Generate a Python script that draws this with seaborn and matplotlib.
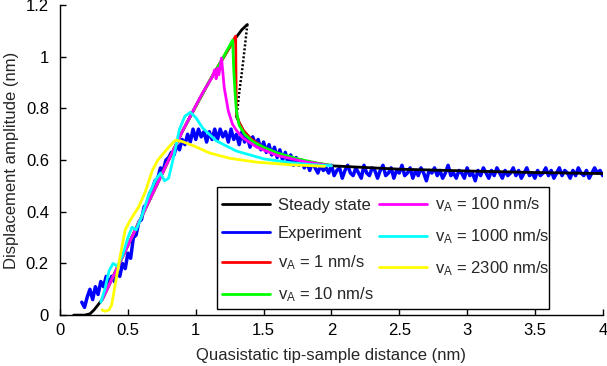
import numpy as np
import matplotlib
matplotlib.use("Agg")
import matplotlib.pyplot as plt
from matplotlib.patches import Rectangle
import seaborn as sns

sns.set_style("ticks")
plt.rcParams['font.family'] = ['Liberation Sans', 'DejaVu Sans']
plt.rcParams['mathtext.default'] = 'regular'

# steady state solution (stable upper, unstable, stable lower branch)
steady_up_x = [0.10, 0.18, 0.22, 0.25, 0.28, 0.31, 0.40, 0.50, 0.60, 0.70, 0.80, 0.90, 1.00, 1.10, 1.19, 1.27, 1.29, 1.34, 1.38]
steady_up_y = [0.0, 0.0, 0.005, 0.02, 0.04, 0.06, 0.16, 0.27, 0.38, 0.49, 0.60, 0.71, 0.81, 0.905, 0.985, 1.055, 1.07, 1.105, 1.125]
steady_mid_x = [1.38, 1.36, 1.34, 1.32, 1.31, 1.30]
steady_mid_y = [1.125, 1.03, 0.94, 0.86, 0.81, 0.77]
steady_low_x = [1.30, 1.32, 1.35, 1.40, 1.45, 1.50, 1.60, 1.70, 1.80, 2.00, 2.50, 3.00, 3.50, 4.00]
steady_low_y = [0.77, 0.745, 0.715, 0.685, 0.665, 0.648, 0.625, 0.608, 0.596, 0.578, 0.565, 0.558, 0.552, 0.548]

# experiment, sampled every 0.02 nm from 0.16 to 4.0 nm
exp_y = [0.05, 0.03, 0.07, 0.10, 0.06, 0.11, 0.08, 0.13, 0.11, 0.15,
         0.12, 0.15, 0.13, 0.17, 0.15, 0.20, 0.18, 0.24, 0.22, 0.30,
         0.31, 0.36, 0.37, 0.42, 0.43, 0.47, 0.49, 0.52, 0.53, 0.57,
         0.56, 0.60, 0.61, 0.63, 0.62, 0.66, 0.64, 0.68, 0.66, 0.70,
         0.67, 0.72, 0.68, 0.72, 0.69, 0.71, 0.67, 0.71, 0.68, 0.72,
         0.68, 0.72, 0.69, 0.71, 0.67, 0.72, 0.68, 0.70, 0.66, 0.71,
         0.67, 0.69, 0.65, 0.69, 0.66, 0.68, 0.64, 0.67, 0.63, 0.66,
         0.62, 0.65, 0.61, 0.64, 0.60, 0.63, 0.59, 0.62, 0.58, 0.61,
         0.58, 0.60, 0.57, 0.59, 0.56, 0.59, 0.57, 0.55, 0.58, 0.56,
         0.57, 0.55, 0.58, 0.54, 0.56, 0.57, 0.53, 0.56, 0.58, 0.55,
         0.54, 0.57, 0.55, 0.53, 0.58, 0.55, 0.54, 0.57, 0.56, 0.53,
         0.56, 0.58, 0.54, 0.55, 0.57, 0.53, 0.56, 0.55, 0.58, 0.54,
         0.55, 0.57, 0.53, 0.56, 0.54, 0.57, 0.55, 0.52, 0.56, 0.55,
         0.57, 0.54, 0.56, 0.53, 0.55, 0.58, 0.54, 0.55, 0.53, 0.56,
         0.55, 0.53, 0.57, 0.54, 0.55, 0.52, 0.56, 0.54, 0.57, 0.55,
         0.53, 0.56, 0.54, 0.57, 0.55, 0.53, 0.56, 0.54, 0.55, 0.57,
         0.54, 0.56, 0.53, 0.55, 0.57, 0.54, 0.55, 0.53, 0.56, 0.54,
         0.55, 0.57, 0.54, 0.56, 0.53, 0.55, 0.57, 0.54, 0.56, 0.55,
         0.53, 0.56, 0.54, 0.57, 0.55, 0.54, 0.56, 0.53, 0.55, 0.57,
         0.55, 0.56, 0.54]
exp_x = np.linspace(0.16, 4.0, len(exp_y))

# simulations at different approach velocities
v1_x = [0.31, 0.50, 0.70, 0.90, 1.10, 1.19, 1.27, 1.294, 1.296, 1.298, 1.30, 1.32, 1.35, 1.40, 1.50, 1.60, 1.80, 2.00]
v1_y = [0.06, 0.27, 0.49, 0.71, 0.905, 0.985, 1.055, 1.08, 0.95, 0.85, 0.78, 0.745, 0.715, 0.685, 0.648, 0.625, 0.596, 0.578]
v10_x = [0.31, 0.50, 0.70, 0.90, 1.10, 1.19, 1.272, 1.28, 1.29, 1.30, 1.32, 1.36, 1.42, 1.50, 1.60, 1.75, 1.90, 2.00]
v10_y = [0.06, 0.27, 0.49, 0.71, 0.905, 0.985, 1.065, 0.95, 0.86, 0.79, 0.735, 0.70, 0.672, 0.65, 0.628, 0.605, 0.588, 0.580]
v100_x = [0.31, 0.50, 0.70, 0.90, 1.05, 1.12, 1.14, 1.15, 1.16, 1.17, 1.19, 1.21, 1.24, 1.27, 1.30, 1.35, 1.45, 1.60, 1.80, 2.00]
v100_y = [0.06, 0.27, 0.49, 0.71, 0.86, 0.92, 0.95, 0.915, 0.955, 0.93, 0.995, 0.88, 0.79, 0.74, 0.715, 0.685, 0.65, 0.618, 0.594, 0.578]
v1000_x = [0.30, 0.33, 0.36, 0.39, 0.42, 0.46, 0.50, 0.53, 0.56, 0.60, 0.65, 0.70, 0.74, 0.77, 0.80, 0.84, 0.88, 0.92, 0.96, 1.00, 1.05, 1.15, 1.30, 1.50, 1.70, 1.85, 2.00]
v1000_y = [0.05, 0.10, 0.17, 0.20, 0.19, 0.23, 0.30, 0.34, 0.33, 0.38, 0.46, 0.52, 0.55, 0.52, 0.53, 0.62, 0.72, 0.77, 0.785, 0.765, 0.725, 0.675, 0.635, 0.605, 0.59, 0.583, 0.578]
v2300_x = [0.31, 0.33, 0.36, 0.38, 0.40, 0.44, 0.48, 0.52, 0.58, 0.63, 0.68, 0.72, 0.76, 0.80, 0.85, 0.90, 1.00, 1.10, 1.25, 1.45, 1.70, 1.95]
v2300_y = [0.02, 0.015, 0.02, 0.04, 0.10, 0.22, 0.33, 0.37, 0.42, 0.48, 0.56, 0.60, 0.625, 0.65, 0.677, 0.672, 0.652, 0.628, 0.607, 0.592, 0.582, 0.576]

labels = ['Steady state', 'Experiment', r'v$_{A}$ = 1 nm/s', r'v$_{A}$ = 10 nm/s',
          r'v$_{A}$ = 100 nm/s', r'v$_{A}$ = 1000 nm/s', r'v$_{A}$ = 2300 nm/s']
colors = ['black', '#0000ff', '#ff0000', '#00ff00', '#ff00ff', '#00ffff', '#ffff00']

fig = plt.figure(figsize=(6.07, 3.66), dpi=100)
ax = fig.add_axes([0.099, 0.139, 0.894, 0.847])

lw = 2.0
kw = dict(ax=ax, sort=False, estimator=None, legend=False)
sns.lineplot(x=exp_x, y=exp_y, color=colors[1], lw=2.5, **kw)
sns.lineplot(x=steady_up_x, y=steady_up_y, color=colors[0], lw=lw, **kw)
sns.lineplot(x=steady_mid_x, y=steady_mid_y, color=colors[0], lw=1.8, ls=(0, (0.8, 0.8)), **kw)
sns.lineplot(x=steady_low_x, y=steady_low_y, color=colors[0], lw=lw, **kw)
sns.lineplot(x=v1_x, y=v1_y, color=colors[2], lw=lw, **kw)
sns.lineplot(x=v10_x, y=v10_y, color=colors[3], lw=lw, **kw)
sns.lineplot(x=v100_x, y=v100_y, color=colors[4], lw=lw, **kw)
sns.lineplot(x=v1000_x, y=v1000_y, color=colors[5], lw=lw, **kw)
sns.lineplot(x=v2300_x, y=v2300_y, color=colors[6], lw=lw, **kw)

# legend box drawn separately (matlab-like padding)
ax.add_patch(Rectangle((0.289, 0.019), 0.612, 0.394, transform=ax.transAxes,
                       facecolor='white', edgecolor='black', lw=1.0, zorder=4))
handles = [plt.Line2D([], [], color=c, lw=lw) for c in colors]
leg = ax.legend(handles, labels, ncol=2, loc='upper left', bbox_to_anchor=(0.298, 0.385),
                borderaxespad=0, borderpad=0, fontsize=12, handlelength=2.9,
                handletextpad=0.45, columnspacing=0.3, labelspacing=0.78, frameon=False)
leg.set_zorder(5)

ax.set_xlim(0, 4)
ax.set_ylim(0, 1.2)
ax.set_xticks([0, 0.5, 1, 1.5, 2, 2.5, 3, 3.5, 4])
ax.set_xticklabels(['0', '0.5', '1', '1.5', '2', '2.5', '3', '3.5', '4'])
ax.set_yticks([0, 0.2, 0.4, 0.6, 0.8, 1, 1.2])
ax.set_yticklabels(['0', '0.2', '0.4', '0.6', '0.8', '1', '1.2'])
ax.tick_params(direction='in', length=4, width=1, labelsize=12, colors='black')
ax.tick_params(axis='x', pad=6)
ax.tick_params(axis='y', pad=8)
ax.set_xlabel('Quasistatic tip-sample distance (nm)', fontsize=12, labelpad=7)
ax.set_ylabel('Displacement amplitude (nm)', fontsize=12, labelpad=5)
for s in ['top', 'right']:
    ax.spines[s].set_visible(False)
for s in ['left', 'bottom']:
    ax.spines[s].set_color('black')
    ax.spines[s].set_linewidth(1.0)

fig.savefig('out.png', dpi=100)
